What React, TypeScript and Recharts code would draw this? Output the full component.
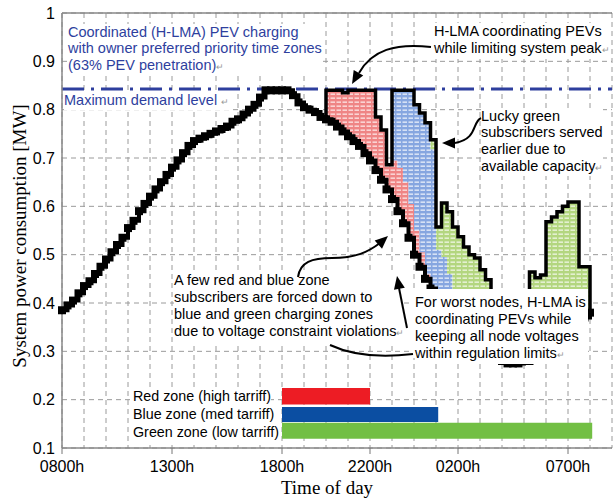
import React from "react";
import {
  ComposedChart,
  Area,
  Line,
  XAxis,
  YAxis,
  CartesianGrid,
  ReferenceLine,
  ReferenceArea,
} from "recharts";

// hours after 0800h, sampled every 15 min
const STEP = 0.25;

// system base load [MW], 0800h .. 0800h next day
const baseLoad = [
  0.385, 0.395, 0.405, 0.42, 0.435, 0.445, 0.46, 0.475, 0.49, 0.505, 0.52, 0.535,
  0.555, 0.57, 0.59, 0.605, 0.62, 0.635, 0.65, 0.665, 0.68, 0.695, 0.71, 0.725,
  0.735, 0.74, 0.745, 0.75, 0.755, 0.76, 0.765, 0.775, 0.78, 0.79, 0.8, 0.81,
  0.825, 0.84, 0.84, 0.84, 0.84, 0.84, 0.83, 0.815, 0.805, 0.8, 0.795, 0.785,
  0.78, 0.775, 0.765, 0.755, 0.745, 0.735, 0.725, 0.71, 0.695, 0.675, 0.655, 0.635,
  0.615, 0.59, 0.565, 0.535, 0.5, 0.475, 0.45, 0.43, 0.41, 0.395, 0.38, 0.365,
  0.35, 0.34, 0.33, 0.32, 0.31, 0.3, 0.29, 0.285, 0.28, 0.275, 0.275, 0.275,
  0.28, 0.28, 0.285, 0.29, 0.3, 0.31, 0.32, 0.33, 0.34, 0.35, 0.36, 0.37, 0.38,
];

// first charging window: 2000h .. 0330h
const win1Start = 12;
const redZone1 = [
  0.06, 0.065, 0.075, 0.08, 0.095, 0.105, 0.115, 0.13, 0.145, 0.11, 0.103, 0.051,
  0.08, 0.09, 0.085, 0.07, 0.05, 0.03, 0.01, 0, 0, 0, 0, 0, 0, 0, 0, 0, 0, 0, 0,
];
const blueZone1 = [
  0, 0, 0, 0, 0, 0, 0, 0, 0, 0, 0, 0,
  0.145, 0.16, 0.19, 0.235, 0.26, 0.288, 0.313, 0.288, 0.1, 0.1, 0.08, 0.05, 0.02,
  0, 0, 0, 0, 0, 0,
];
const greenZone1 = [
  0, 0, 0, 0, 0, 0, 0, 0, 0, 0, 0, 0, 0, 0, 0, 0, 0, 0, 0,
  0.02, 0.047, 0.112, 0.129, 0.142, 0.167, 0.176, 0.17, 0.173, 0.159, 0.148, 0,
];

// second charging window: 0515h .. 0800h (green only)
const win2Start = 21.25;
const greenZone2 = [0.184, 0.167, 0.168, 0.268, 0.268, 0.269, 0.27, 0.269, 0.259, 0.115, 0.105, 0];

const maxDemand = 0.843;

const tickHours = [0, 5, 10, 14, 18, 23];
const tickNames = ["0800h", "1300h", "1800h", "2200h", "0200h", "0700h"];
const yTicks = [0.1, 0.2, 0.3, 0.4, 0.5, 0.6, 0.7, 0.8, 0.9, 1.0];

// tariff zones shown as bars at the bottom
const zoneNames = ["Red zone (high tarriff)", "Blue zone (med tarriff)", "Green zone (low tarriff)"];
const zoneStart = [10, 10, 10];
const zoneEnd = [14, 17.1, 24.1];
const zoneLow = [0.19, 0.154, 0.119];
const zoneHigh = [0.224, 0.185, 0.152];
const zoneColors = ["#ed1c24", "#0b4ea2", "#72bf44"];

const data = baseLoad.map((b, i) => {
  const h = i * STEP;
  const j1 = Math.round((h - win1Start) / STEP);
  const j2 = Math.round((h - win2Start) / STEP);
  const in1 = j1 >= 0 && j1 < redZone1.length;
  const in2 = j2 >= 0 && j2 < greenZone2.length;
  const red = in1 ? redZone1[j1] : 0;
  const blue = in1 ? blueZone1[j1] : 0;
  const green = (in1 ? greenZone1[j1] : 0) + (in2 ? greenZone2[j2] : 0);
  const total = in1 || in2 || j1 === -1 || j2 === -1 ? b + red + blue + green : null;
  return { h, base: b, red, blue, green, total };
});

const hourTicks = Array.from({ length: 26 }, (_, i) => i);

const SquareDot = (props: any) => {
  const { cx, cy, index } = props;
  if (cx == null || cy == null) return <g key={index} />;
  return <rect key={index} x={cx - 4} y={cy - 4} width={8} height={8} fill="#000" />;
};

const HourTick = (props: any) => {
  const { x, y, payload } = props;
  const k = tickHours.indexOf(payload.value);
  if (k < 0) return <g />;
  return (
    <g>
      <line x1={x} x2={x} y1={y} y2={y + 6} stroke="#777" />
      <text x={x} y={y + 24} textAnchor="middle" fontSize={16} fill="#000">
        {tickNames[k]}
      </text>
    </g>
  );
};

const RET = <span style={{ fontSize: 9, color: "#999" }}>↵</span>;

function Note({ x, y, lines, color = "#000", lh = 16.8 }: any) {
  return (
    <div
      style={{
        position: "absolute",
        left: x,
        top: y,
        fontSize: 14.5,
        lineHeight: `${lh}px`,
        color,
        background: "#fff",
        whiteSpace: "pre",
      }}
    >
      {lines.map((l: any, i: number) => (
        <div key={i}>{l}</div>
      ))}
    </div>
  );
}

function arrowHead(tx: number, ty: number, fx: number, fy: number, len = 13, half = 5.5) {
  const dx = tx - fx;
  const dy = ty - fy;
  const d = Math.hypot(dx, dy);
  const ux = dx / d;
  const uy = dy / d;
  const bx = tx - ux * len;
  const by = ty - uy * len;
  return `${tx},${ty} ${bx - uy * half},${by + ux * half} ${bx + uy * half},${by - ux * half}`;
}

export default function App() {
  return (
    <div
      style={{
        position: "absolute",
        left: 0,
        top: 0,
        width: 613,
        height: 499,
        overflow: "hidden",
        background: "#fff",
        fontFamily: '"Liberation Sans", Arial, sans-serif',
      }}
    >
      <ComposedChart
        width={613}
        height={499}
        data={data}
        margin={{ top: 13, right: 1, bottom: 0, left: 0 }}
      >
        <defs>
          <pattern id="redHatch" width="6" height="4" patternUnits="userSpaceOnUse">
            <rect width="6" height="4" fill="#ef8585" />
            <rect x="0.5" y="1.5" width="4.5" height="1.3" fill="#fde6e6" />
          </pattern>
          <pattern id="blueHatch" width="6" height="4" patternUnits="userSpaceOnUse">
            <rect width="6" height="4" fill="#86a6e0" />
            <rect x="0.5" y="1.5" width="4.5" height="1.3" fill="#eaf0fb" />
          </pattern>
          <pattern id="greenHatch" width="6" height="4" patternUnits="userSpaceOnUse">
            <rect width="6" height="4" fill="#b3d67f" />
            <rect x="0.5" y="1.5" width="4.5" height="1.3" fill="#f0f7e4" />
          </pattern>
        </defs>
        <CartesianGrid stroke="#9a9a9a" strokeDasharray="5 4" />
        <XAxis
          dataKey="h"
          type="number"
          domain={[0, 25]}
          ticks={hourTicks}
          interval={0}
          tick={<HourTick />}
          tickLine={false}
          tickSize={0}
          tickMargin={0}
          height={51}
          axisLine={{ stroke: "#888", strokeWidth: 1.5 }}
        />
        <YAxis
          type="number"
          domain={[0.1, 1]}
          allowDataOverflow
          ticks={yTicks}
          interval={0}
          width={62}
          tickSize={0}
          tickMargin={7}
          tickLine={false}
          tick={{ fill: "#000", fontSize: 16 }}
          tickFormatter={(v: number) => (v === 1 ? "1" : v.toFixed(1))}
          axisLine={{ stroke: "#888", strokeWidth: 1.5 }}
        />
        <ReferenceLine y={1} stroke="#888" strokeWidth={1.5} />
        {zoneNames.map((n, i) => (
          <ReferenceArea
            key={n}
            x1={zoneStart[i]}
            x2={zoneEnd[i]}
            y1={zoneLow[i]}
            y2={zoneHigh[i]}
            fill={zoneColors[i]}
            fillOpacity={1}
            stroke="none"
          />
        ))}
        <Area dataKey="base" stackId="s" type="stepAfter" fill="none" stroke="none" isAnimationActive={false} />
        <Area dataKey="red" stackId="s" type="stepAfter" fill="url(#redHatch)" fillOpacity={1} stroke="none" isAnimationActive={false} />
        <Area dataKey="blue" stackId="s" type="stepAfter" fill="url(#blueHatch)" fillOpacity={1} stroke="none" isAnimationActive={false} />
        <Area dataKey="green" stackId="s" type="stepAfter" fill="url(#greenHatch)" fillOpacity={1} stroke="none" isAnimationActive={false} />
        <ReferenceLine y={maxDemand} stroke="#2e3f9e" strokeWidth={3} strokeDasharray="22 7 3 7" />
        <Line dataKey="total" type="stepAfter" stroke="#000" strokeWidth={3.5} dot={false} connectNulls={false} isAnimationActive={false} />
        <Line dataKey="base" type="stepAfter" stroke="#000" strokeWidth={4} dot={SquareDot} isAnimationActive={false} />
      </ComposedChart>

      {/* axis titles */}
      <div
        style={{
          position: "absolute",
          left: 20,
          top: 236,
          transform: "translate(-50%, -50%) rotate(-90deg)",
          fontFamily: '"Liberation Serif", "Times New Roman", serif',
          fontSize: 19,
          whiteSpace: "nowrap",
        }}
      >
        System power consumption [MW]
      </div>
      <div
        style={{
          position: "absolute",
          left: 327,
          top: 488,
          transform: "translate(-50%, -50%)",
          fontFamily: '"Liberation Serif", "Times New Roman", serif',
          fontSize: 19,
          whiteSpace: "nowrap",
        }}
      >
        Time of day
      </div>

      {/* annotations */}
      <Note
        x={68}
        y={23.5}
        lh={16.5}
        color="#2e3f9e"
        lines={["Coordinated (H-LMA) PEV charging", "with owner preferred priority time zones", <>(63% PEV penetration){RET}</>]}
      />
      <Note x={64} y={91.5} lh={16.5} color="#2e3f9e" lines={[<>Maximum demand level {RET}</>]} />
      <Note x={434} y={22.5} lh={17} lines={["H-LMA coordinating PEVs", <>while limiting system peak{RET}</>]} />
      <Note
        x={481}
        y={107.5}
        lh={16.7}
        lines={["Lucky green", "subscribers served", "earlier due to", <>available capacity{RET}</>]}
      />
      <Note
        x={174}
        y={271.5}
        lh={17}
        lines={[
          "A few red and blue zone",
          "subscribers are forced down to",
          "blue and green charging zones",
          <>due to voltage constraint violations{RET}</>,
        ]}
      />
      <div style={{ position: "absolute", left: 412, top: 289, width: 176, height: 69, background: "#fff" }} />
      <Note
        x={415}
        y={293.5}
        lh={17}
        lines={["For worst nodes, H-LMA is", "coordinating PEVs while", "keeping all node voltages", <>within regulation limits{RET}</>]}
      />
      {zoneNames.map((n, i) => (
        <div
          key={n}
          style={{
            position: "absolute",
            left: 133,
            top: [396, 414, 432][i] - 8.5,
            fontSize: 14.3,
            lineHeight: "17px",
            background: "#fff",
            whiteSpace: "pre",
          }}
        >
          {n}
        </div>
      ))}

      {/* arrows */}
      <svg width={613} height={499} style={{ position: "absolute", left: 0, top: 0, pointerEvents: "none" }}>
        <g fill="none" stroke="#000" strokeWidth={2}>
          <path d="M 431 47 C 395 43, 372 50, 359 73" />
          <path d="M 481 118 C 472 122, 478 139, 455 143" />
          <path d="M 298 277 C 300 262, 312 258, 332 258 C 356 258, 368 252, 380 243" />
          <path d="M 407 328 L 399 288" />
          <path d="M 330 345 Q 362 360, 413 354" />
        </g>
        <g fill="#000">
          <polygon points={arrowHead(352, 84, 360, 70)} />
          <polygon points={arrowHead(442, 143, 456, 143)} />
          <polygon points={arrowHead(388, 236, 378, 245)} />
          <polygon points={arrowHead(397, 276, 400, 292)} />
        </g>
      </svg>
    </div>
  );
}
